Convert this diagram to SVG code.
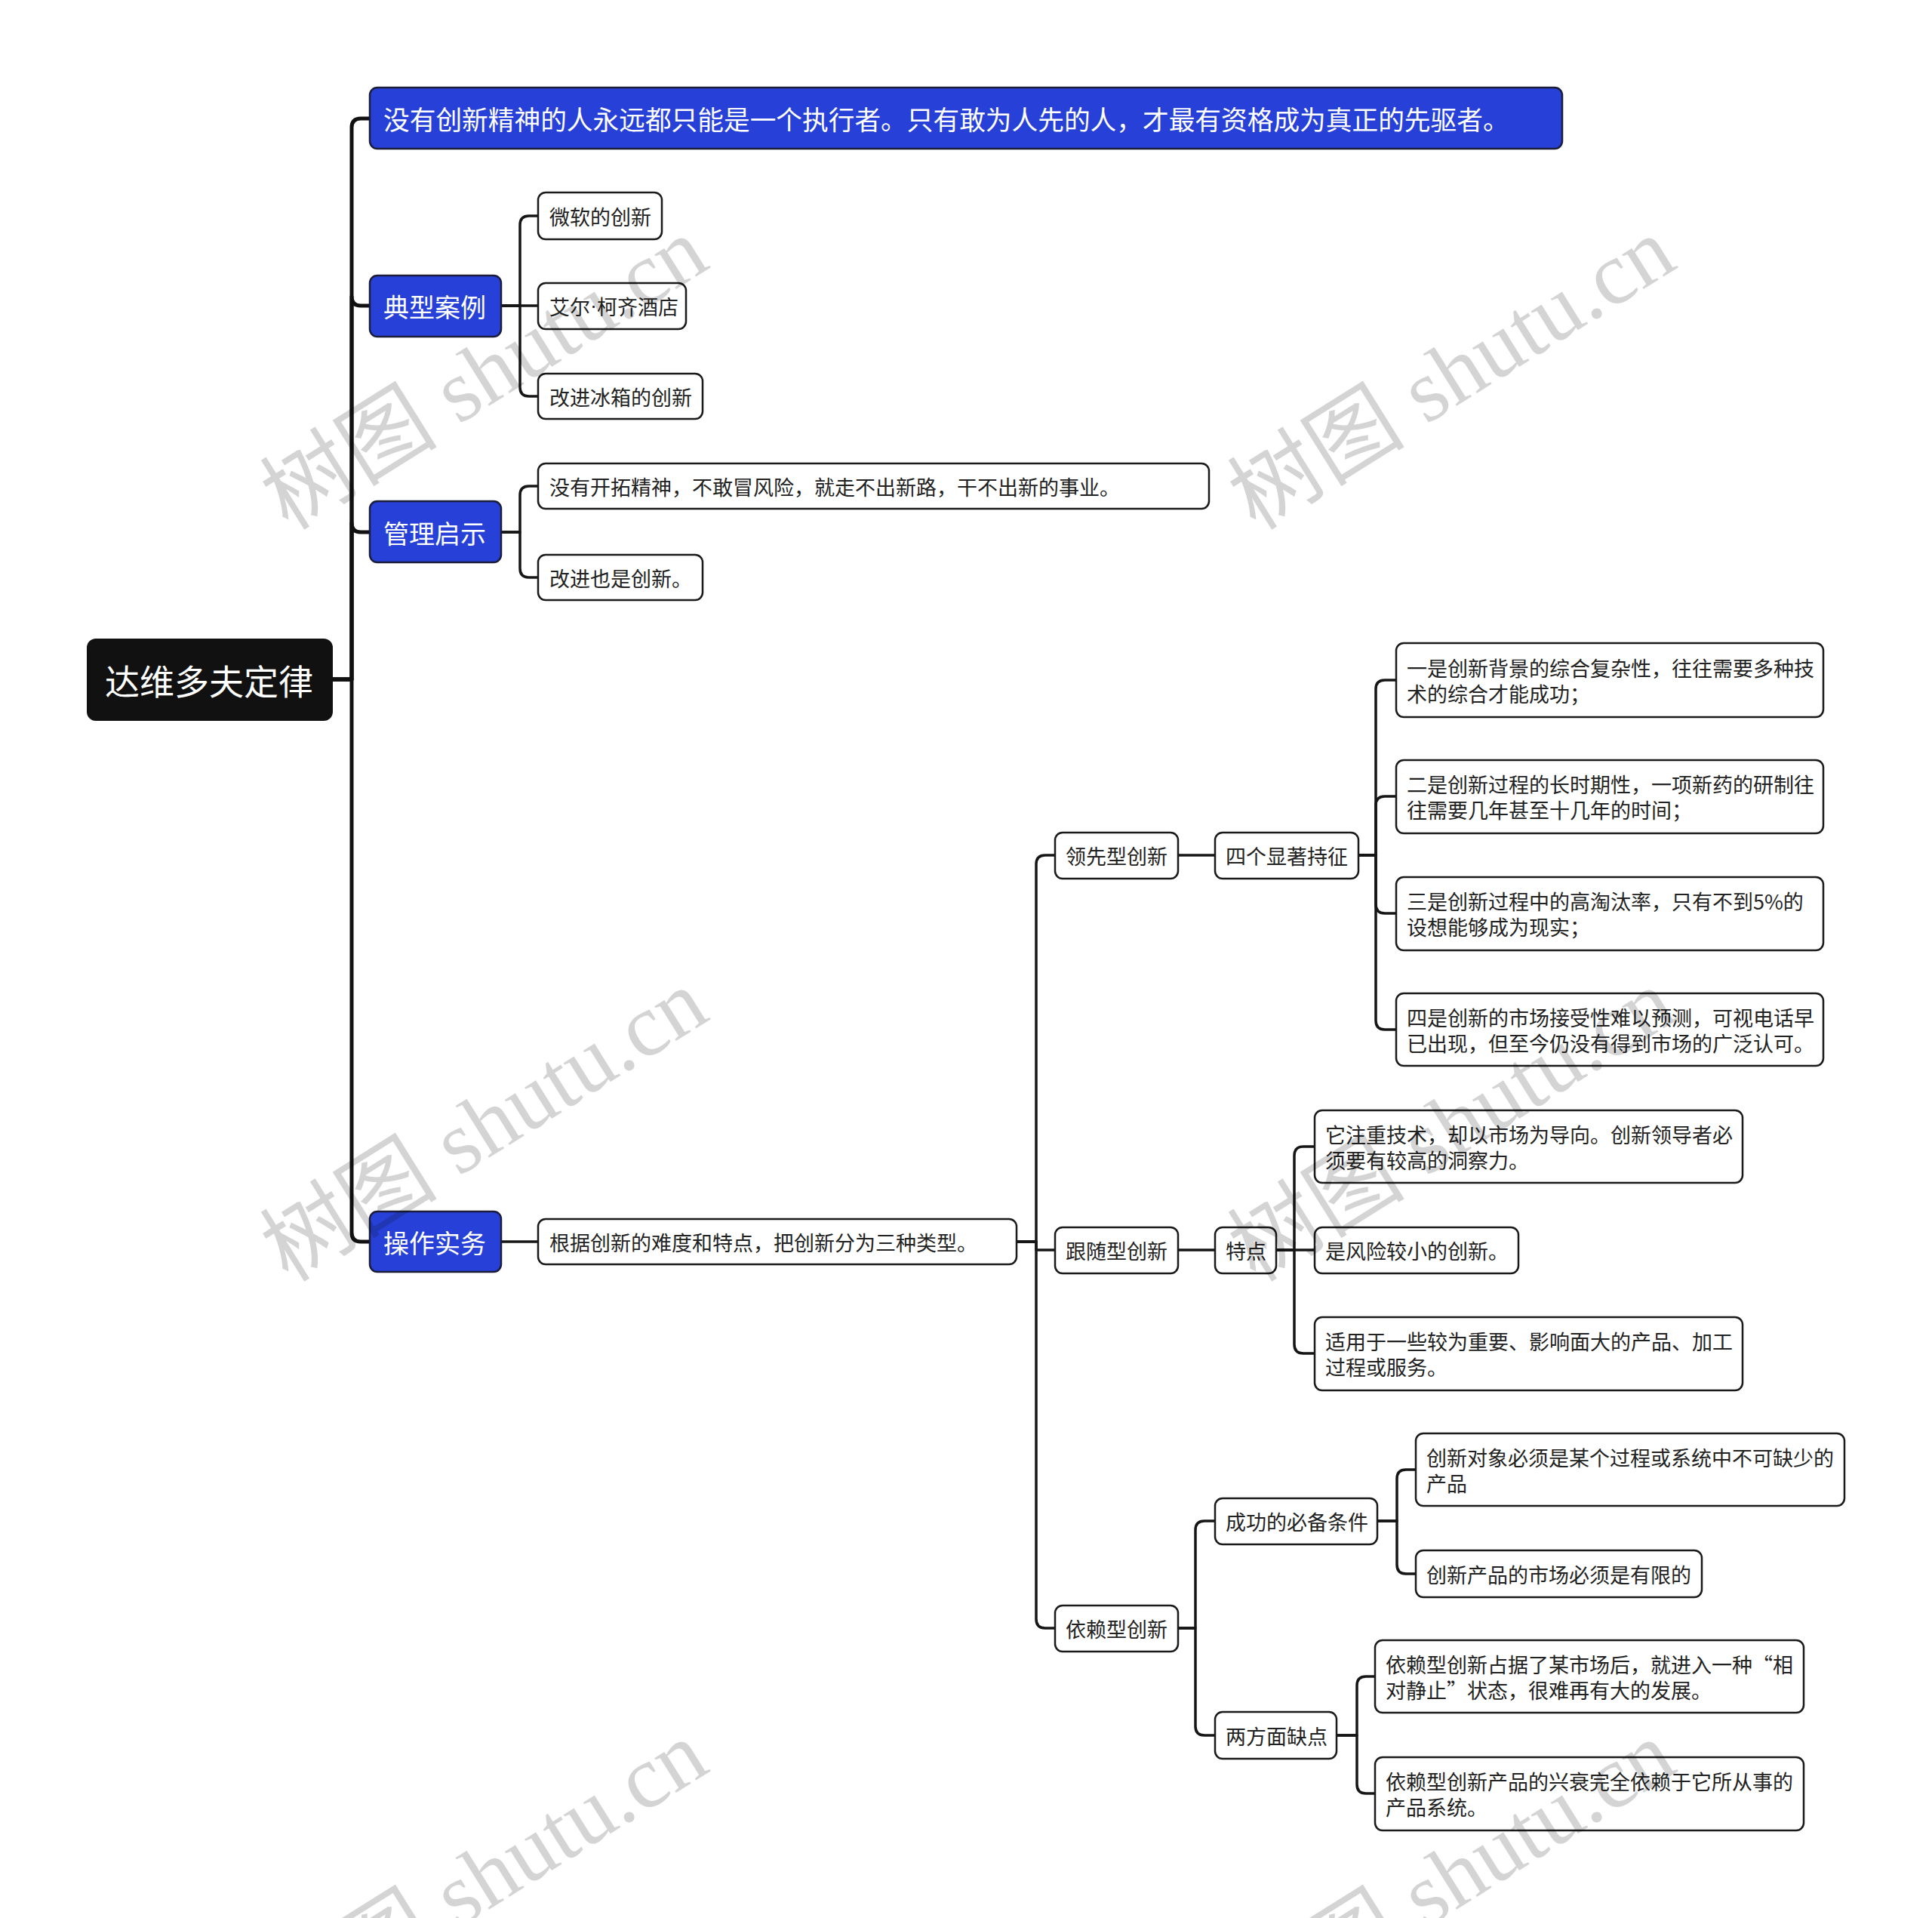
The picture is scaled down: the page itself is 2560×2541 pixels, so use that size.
<svg xmlns="http://www.w3.org/2000/svg" width="2560" height="2541" viewBox="0 0 2560 2541">
<style>
.c{fill:none;stroke:#161616;stroke-width:3.5;stroke-linejoin:round;stroke-linecap:round}
.c0{fill:none;stroke:#111;stroke-width:5;stroke-linejoin:round}
.leaf{fill:#fff;stroke:#1a1a1a;stroke-width:2.5}
.l1{fill:#2741D8;stroke:#1b1d3a;stroke-width:2.5}
.root{fill:#111}
text{font-family:"Noto Sans CJK SC","Noto Sans",sans-serif;dominant-baseline:central}
.t{font-size:27px;fill:#222}
.t1{font-size:34px;fill:#fff}
.t0{font-size:46px;fill:#fff}
.dot{font-family:"Liberation Sans",sans-serif}
.wm{font-family:"Liberation Serif","Noto Sans CJK SC",serif;font-size:118px;fill:#000;fill-opacity:0.17;dominant-baseline:auto}
</style>
<rect width="2560" height="2541" fill="#fff"/>
<g id="connectors">
<path class="c0" d="M441,900 H466 V169 Q466,157 478,157 H490"/>
<path class="c0" d="M441,900 H466 V393 Q466,405 478,405 H490"/>
<path class="c0" d="M441,900 H466 V693 Q466,705 478,705 H490"/>
<path class="c0" d="M441,900 H466 V1633 Q466,1645 478,1645 H490"/>
<path class="c" d="M664,405 H689 V298 Q689,286 701,286 H713"/>
<path class="c" d="M664,405 H713"/>
<path class="c" d="M664,405 H689 V513 Q689,525 701,525 H713"/>
<path class="c" d="M664,705 H689 V656 Q689,644 701,644 H713"/>
<path class="c" d="M664,705 H689 V753 Q689,765 701,765 H713"/>
<path class="c" d="M664,1645 H713"/>
<path class="c" d="M1347,1645 H1373 V1145 Q1373,1133 1385,1133 H1398"/>
<path class="c" d="M1347,1645 H1373 V1656 H1398"/>
<path class="c" d="M1347,1645 H1373 V2145 Q1373,2157 1385,2157 H1398"/>
<path class="c" d="M1561,1133 H1610"/>
<path class="c" d="M1800,1133 H1823 V913 Q1823,901 1835,901 H1850"/>
<path class="c" d="M1800,1133 H1823 V1067 Q1823,1055 1835,1055 H1850"/>
<path class="c" d="M1800,1133 H1823 V1198 Q1823,1210 1835,1210 H1850"/>
<path class="c" d="M1800,1133 H1823 V1352 Q1823,1364 1835,1364 H1850"/>
<path class="c" d="M1561,1656 H1610"/>
<path class="c" d="M1691,1656 H1715 V1531 Q1715,1519 1727,1519 H1742"/>
<path class="c" d="M1691,1656 H1742"/>
<path class="c" d="M1691,1656 H1715 V1781 Q1715,1793 1727,1793 H1742"/>
<path class="c" d="M1561,2157 H1584 V2027 Q1584,2015 1596,2015 H1610"/>
<path class="c" d="M1561,2157 H1584 V2287 Q1584,2299 1596,2299 H1610"/>
<path class="c" d="M1825,2015 H1851 V1959 Q1851,1947 1863,1947 H1876"/>
<path class="c" d="M1825,2015 H1851 V2073 Q1851,2085 1863,2085 H1876"/>
<path class="c" d="M1771,2299 H1798 V2233 Q1798,2221 1810,2221 H1822"/>
<path class="c" d="M1771,2299 H1798 V2364 Q1798,2376 1810,2376 H1822"/>
</g>
<g id="n-root"><rect class="root" x="115" y="846" width="326" height="109" rx="12"/><text class="t0" x="139" y="900">达维多夫定律</text></g>
<g id="n-top"><rect class="l1" x="490" y="116" width="1580" height="81" rx="10"/><text class="t1" x="508" y="157" style="font-size:34.7px">没有创新精神的人永远都只能是一个执行者。只有敢为人先的人，才最有资格成为真正的先驱者。</text></g>
<g id="n-cases"><rect class="l1" x="490" y="365" width="174" height="81" rx="10"/><text class="t1" x="508" y="405">典型案例</text></g>
<g id="n-ms"><rect class="leaf" x="713" y="255" width="164" height="62" rx="10"/><text class="t" x="728" y="286">微软的创新</text></g>
<g id="n-hotel"><rect class="leaf" x="713" y="375" width="196" height="61" rx="10"/><text class="t" x="728" y="405">艾尔<tspan class="dot">·</tspan>柯齐酒店</text></g>
<g id="n-fridge"><rect class="leaf" x="713" y="495" width="218" height="60" rx="10"/><text class="t" x="728" y="525">改进冰箱的创新</text></g>
<g id="n-mgmt"><rect class="l1" x="490" y="664" width="174" height="81" rx="10"/><text class="t1" x="508" y="705">管理启示</text></g>
<g id="n-pioneer"><rect class="leaf" x="713" y="614" width="889" height="60" rx="10"/><text class="t" x="728" y="644">没有开拓精神，不敢冒风险，就走不出新路，干不出新的事业。</text></g>
<g id="n-improve"><rect class="leaf" x="713" y="735" width="218" height="60" rx="10"/><text class="t" x="728" y="765">改进也是创新。</text></g>
<g id="n-ops"><rect class="l1" x="490" y="1605" width="174" height="80" rx="10"/><text class="t1" x="508" y="1645">操作实务</text></g>
<g id="n-types"><rect class="leaf" x="713" y="1615" width="634" height="60" rx="10"/><text class="t" x="728" y="1645">根据创新的难度和特点，把创新分为三种类型。</text></g>
<g id="n-lead"><rect class="leaf" x="1398" y="1103" width="163" height="61" rx="10"/><text class="t" x="1412" y="1133">领先型创新</text></g>
<g id="n-four"><rect class="leaf" x="1610" y="1103" width="190" height="61" rx="10"/><text class="t" x="1624" y="1133">四个显著持征</text></g>
<g id="n-f1"><rect class="leaf" x="1850" y="852" width="566" height="98" rx="10"/><text class="t" x="1864"><tspan x="1864" y="884">一是创新背景的综合复杂性，往往需要多种技</tspan><tspan x="1864" y="918">术的综合才能成功；</tspan></text></g>
<g id="n-f2"><rect class="leaf" x="1850" y="1007" width="566" height="97" rx="10"/><text class="t" x="1864"><tspan x="1864" y="1038">二是创新过程的长时期性，一项新药的研制往</tspan><tspan x="1864" y="1072">往需要几年甚至十几年的时间；</tspan></text></g>
<g id="n-f3"><rect class="leaf" x="1850" y="1162" width="566" height="97" rx="10"/><text class="t" x="1864"><tspan x="1864" y="1193">三是创新过程中的高淘汰率，只有不到5%的</tspan><tspan x="1864" y="1227">设想能够成为现实；</tspan></text></g>
<g id="n-f4"><rect class="leaf" x="1850" y="1316" width="566" height="96" rx="10"/><text class="t" x="1864"><tspan x="1864" y="1347">四是创新的市场接受性难以预测，可视电话早</tspan><tspan x="1864" y="1381">已出现，但至今仍没有得到市场的广泛认可。</tspan></text></g>
<g id="n-follow"><rect class="leaf" x="1398" y="1626" width="163" height="61" rx="10"/><text class="t" x="1412" y="1656">跟随型创新</text></g>
<g id="n-trait"><rect class="leaf" x="1610" y="1626" width="81" height="61" rx="10"/><text class="t" x="1624" y="1656">特点</text></g>
<g id="n-t1"><rect class="leaf" x="1742" y="1471" width="567" height="96" rx="10"/><text class="t" x="1756"><tspan x="1756" y="1502">它注重技术，却以市场为导向。创新领导者必</tspan><tspan x="1756" y="1536">须要有较高的洞察力。</tspan></text></g>
<g id="n-t2"><rect class="leaf" x="1742" y="1626" width="270" height="61" rx="10"/><text class="t" x="1756" y="1656">是风险较小的创新。</text></g>
<g id="n-t3"><rect class="leaf" x="1742" y="1745" width="567" height="97" rx="10"/><text class="t" x="1756"><tspan x="1756" y="1776">适用于一些较为重要、影响面大的产品、加工</tspan><tspan x="1756" y="1810">过程或服务。</tspan></text></g>
<g id="n-dep"><rect class="leaf" x="1398" y="2127" width="163" height="61" rx="10"/><text class="t" x="1412" y="2157">依赖型创新</text></g>
<g id="n-cond"><rect class="leaf" x="1610" y="1985" width="215" height="61" rx="10"/><text class="t" x="1624" y="2015">成功的必备条件</text></g>
<g id="n-c1"><rect class="leaf" x="1876" y="1899" width="568" height="96" rx="10"/><text class="t" x="1890"><tspan x="1890" y="1930">创新对象必须是某个过程或系统中不可缺少的</tspan><tspan x="1890" y="1964">产品</tspan></text></g>
<g id="n-c2"><rect class="leaf" x="1876" y="2054" width="379" height="62" rx="10"/><text class="t" x="1890" y="2085">创新产品的市场必须是有限的</text></g>
<g id="n-weak"><rect class="leaf" x="1610" y="2268" width="161" height="62" rx="10"/><text class="t" x="1624" y="2299">两方面缺点</text></g>
<g id="n-w1"><rect class="leaf" x="1822" y="2173" width="568" height="96" rx="10"/><text class="t" x="1836"><tspan x="1836" y="2204">依赖型创新占据了某市场后，就进入一种“相</tspan><tspan x="1836" y="2238">对静止”状态，很难再有大的发展。</tspan></text></g>
<g id="n-w2"><rect class="leaf" x="1822" y="2328" width="568" height="97" rx="10"/><text class="t" x="1836"><tspan x="1836" y="2359">依赖型创新产品的兴衰完全依赖于它所从事的</tspan><tspan x="1836" y="2393">产品系统。</tspan></text></g>
<g id="watermarks">
<text class="wm" transform="translate(382,704) rotate(-32)">树图 shutu.cn</text>
<text class="wm" transform="translate(1664,704) rotate(-32)">树图 shutu.cn</text>
<text class="wm" transform="translate(382,1700) rotate(-32)">树图 shutu.cn</text>
<text class="wm" transform="translate(1664,1700) rotate(-32)">树图 shutu.cn</text>
<text class="wm" transform="translate(382,2696) rotate(-32)">树图 shutu.cn</text>
<text class="wm" transform="translate(1664,2696) rotate(-32)">树图 shutu.cn</text>
</g>
</svg>
